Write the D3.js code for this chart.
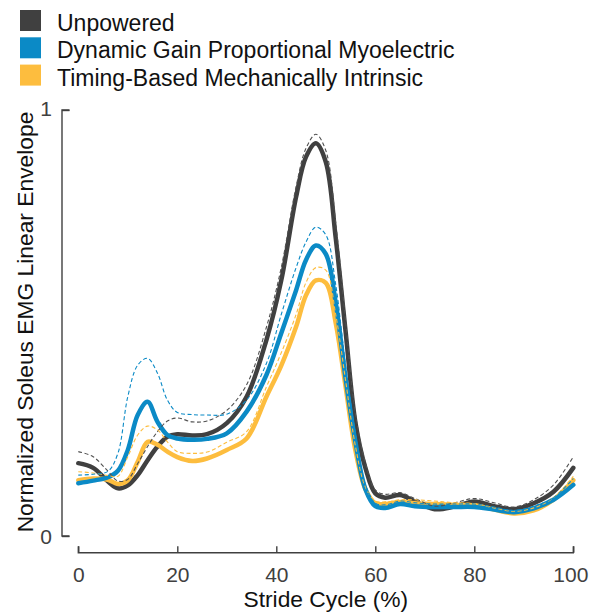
<!DOCTYPE html>
<html><head><meta charset="utf-8">
<script src="https://cdn.jsdelivr.net/npm/d3@7/dist/d3.min.js"></script>
<style>body{margin:0;background:#fff}svg{display:block}text{font-family:"Liberation Sans",Arial,Helvetica,sans-serif}</style>
</head><body>
<svg id="c" width="589" height="614"></svg>
<script>
const stride = [0,3,6,8,10,12,14,16,18,20,23,26,30,34,38,41,44,46,48,50,52,54,56,58,60,62,65,68,72,76,80,84,88,92,96,100];

const unpoweredMean = [0.171,0.160,0.128,0.112,0.119,0.143,0.178,0.210,0.233,0.239,0.236,0.239,0.265,0.327,0.460,0.600,0.796,0.890,0.922,0.878,0.700,0.480,0.265,0.160,0.100,0.090,0.096,0.081,0.063,0.069,0.081,0.070,0.063,0.077,0.104,0.160];
const unpoweredUpper = [0.198,0.186,0.152,0.129,0.133,0.170,0.210,0.245,0.270,0.277,0.268,0.270,0.295,0.355,0.490,0.630,0.820,0.910,0.943,0.905,0.735,0.505,0.285,0.172,0.108,0.098,0.102,0.088,0.070,0.078,0.088,0.078,0.068,0.085,0.120,0.186];

const myoMean = [0.124,0.130,0.138,0.153,0.202,0.284,0.315,0.268,0.237,0.229,0.226,0.228,0.241,0.292,0.378,0.476,0.577,0.648,0.682,0.662,0.548,0.370,0.220,0.110,0.070,0.066,0.075,0.070,0.068,0.068,0.068,0.062,0.056,0.065,0.085,0.120];
const myoUpper = [0.143,0.145,0.152,0.194,0.327,0.401,0.417,0.382,0.319,0.290,0.285,0.284,0.286,0.319,0.405,0.520,0.630,0.690,0.725,0.707,0.590,0.400,0.240,0.120,0.077,0.073,0.082,0.078,0.075,0.075,0.075,0.068,0.060,0.070,0.090,0.135];

const timingMean = [0.131,0.135,0.132,0.122,0.131,0.174,0.221,0.214,0.198,0.185,0.176,0.182,0.202,0.229,0.327,0.400,0.491,0.565,0.600,0.594,0.500,0.350,0.200,0.110,0.077,0.075,0.080,0.077,0.075,0.073,0.072,0.062,0.053,0.060,0.085,0.131];
const timingUpper = [0.151,0.148,0.142,0.140,0.186,0.237,0.258,0.249,0.221,0.198,0.194,0.197,0.220,0.245,0.350,0.430,0.520,0.595,0.630,0.624,0.520,0.365,0.210,0.115,0.082,0.080,0.085,0.085,0.082,0.078,0.076,0.066,0.058,0.066,0.090,0.140];

const seriesNames = ["Unpowered","Dynamic Gain Proportional Myoelectric","Timing-Based Mechanically Intrinsic"];
const seriesColors = ["#404040","#0b8ac6","#fdbd3e"];
const xTicks = [0,20,40,60,80,100];
const yTicks = [0,1];
const xLabel = "Stride Cycle (%)";
const yLabel = "Normalized Soleus EMG Linear Envelope";

const svg = d3.select("#c");
const x = d3.scaleLinear().domain([0,100]).range([78.3,573.3]);
const y = d3.scaleLinear().domain([0,1]).range([536,110]);

const means = [unpoweredMean,myoMean,timingMean];
const uppers = [unpoweredUpper,myoUpper,timingUpper];

const line = d3.line().x(d=>x(d[0])).y(d=>y(d[1])).curve(d3.curveCatmullRom.alpha(0.5));
const pts = arr => stride.map((s,i)=>[s,arr[i]]);

[0,2,1].forEach(k=>{
  svg.append("path").attr("d",line(pts(means[k]))).attr("fill","none")
    .attr("stroke",seriesColors[k]).attr("stroke-width",4.5).attr("stroke-linejoin","round").attr("stroke-linecap","round");
});
[0,2,1].forEach(k=>{
  svg.append("path").attr("d",line(pts(uppers[k]))).attr("fill","none")
    .attr("stroke",k===0?"#505050":seriesColors[k]).attr("stroke-width",1.1).attr("stroke-dasharray","4,2.5");
});

// y axis
const yAxis = svg.append("g").attr("transform","translate(62,0)")
  .call(d3.axisRight(y).tickValues(yTicks).tickSize(7.5).tickFormat(""));
yAxis.select(".domain").attr("d",`M${7.5},${y(1)}H0V${y(0)}H7.5`);
yAxis.selectAll("path,line").attr("stroke","#404040").attr("stroke-width",1.4);
yAxis.selectAll(".tick").append("text").attr("x",-10).attr("dy",d=>d===1?"5":"7.3")
  .attr("text-anchor","end").attr("fill","#404040").attr("font-size",21).text(d=>d);

// x axis
const xAxis = svg.append("g").attr("transform","translate(0,552.7)")
  .call(d3.axisTop(x).tickValues(xTicks).tickSize(6.5).tickFormat(""));
xAxis.select(".domain").attr("d",`M${x(0)},-6.5V0H${x(100)}V-6.5`);
xAxis.selectAll("path,line").attr("stroke","#404040").attr("stroke-width",1.4);
xAxis.selectAll(".tick").append("text").attr("y",29.5).attr("dx",d=>d===100?-3:0)
  .attr("text-anchor","middle").attr("fill","#404040").attr("font-size",21).text(d=>d);

svg.append("text").attr("x",325.8).attr("y",607).attr("text-anchor","middle")
  .attr("font-size",22.8).attr("fill","#111").text(xLabel);
svg.append("text").attr("transform","translate(33,322) rotate(-90)").attr("text-anchor","middle")
  .attr("font-size",22.8).attr("fill","#111").text(yLabel);

// legend
seriesNames.forEach((n,i)=>{
  const g = svg.append("g").attr("transform",`translate(0,${i*27.3})`);
  g.append("rect").attr("x",20).attr("y",10).attr("width",21).attr("height",21).attr("fill",seriesColors[i]);
  g.append("text").attr("x",57).attr("y",31).attr("font-size",23).attr("fill","#111").text(n);
});
</script>
</body></html>
